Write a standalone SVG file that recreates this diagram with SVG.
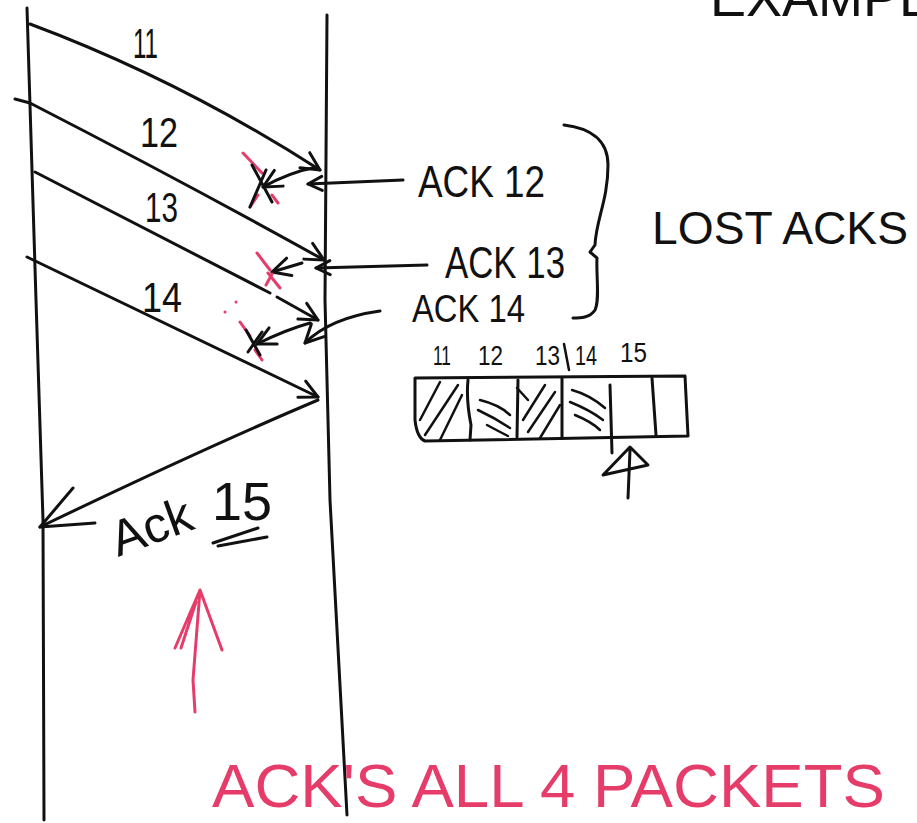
<svg xmlns="http://www.w3.org/2000/svg" width="917" height="823" viewBox="0 0 917 823">
<defs>
<style>
.ln{fill:none;stroke:#111;stroke-width:3;stroke-linecap:round;stroke-linejoin:round}
.th{fill:none;stroke:#111;stroke-width:2.5;stroke-linecap:round;stroke-linejoin:round}
.pk{fill:none;stroke:#e63c6a;stroke-width:3;stroke-linecap:round;stroke-linejoin:round}
.t{font-family:"Liberation Sans",Arial,sans-serif;fill:#111}
.rt{font-family:"Liberation Sans",Arial,sans-serif;fill:#e63c6a}
</style>
<marker id="ah" viewBox="0 0 24 24" refX="21" refY="12" markerWidth="24" markerHeight="24" markerUnits="userSpaceOnUse" orient="auto">
<path d="M3,3 L21,12 L3,21" fill="none" stroke="#111" stroke-width="3" stroke-linecap="round" stroke-linejoin="round"/>
</marker>
<marker id="ahs" viewBox="0 0 18 18" refX="16" refY="9" markerWidth="18" markerHeight="18" markerUnits="userSpaceOnUse" orient="auto">
<path d="M2,2 L16,9 L2,16" fill="none" stroke="#111" stroke-width="3" stroke-linecap="round" stroke-linejoin="round"/>
</marker>
</defs>
<rect width="917" height="823" fill="#fff"/>

<g id="sender-timeline"><path class="ln" d="M27,8 L36,300 L43,520 L44,820"/></g>
<g id="receiver-timeline"><path class="ln" d="M327,15 L325,300 L330,500 L347,815"/></g>

<g id="connectors">
<path class="ln" d="M30,24 Q180,80 320,170" marker-end="url(#ah)"/>
<path class="ln" d="M15,99 L30,103 Q180,180 324,260" marker-end="url(#ah)"/>
<path class="ln" d="M35,172 L270,293"/>
<path class="ln" d="M277,297 L318,320" marker-end="url(#ah)"/>
<path class="ln" d="M27,257 L318,397" marker-end="url(#ah)"/>
<path class="ln" d="M318,400 Q200,450 40,527"/>
<path class="ln" d="M73,488 L40,527 L95,523"/>
<path class="ln" d="M403,180 L308,184" marker-end="url(#ahs)"/>
<path class="ln" d="M317,167 Q290,172 263,187" marker-end="url(#ah)"/>
<path class="ln" d="M427,265 L316,268" marker-end="url(#ahs)"/>
<path class="ln" d="M302,263 L272,272" marker-end="url(#ah)"/>
<path class="ln" d="M380,311 Q330,318 305,343" marker-end="url(#ah)"/>
<path class="ln" d="M310,323 Q285,330 257,344" marker-end="url(#ah)"/>
</g>

<g id="lost-marks">
<path class="pk" d="M243,153 L262,173 M258,195 L250,207 M272,195 L278,203"/>
<path class="ln" d="M252,165 L272,202 M266,170 L250,207"/>
<path class="pk" d="M257,253 L270,270 M268,273 L280,288 M266,285 L272,274"/>
<path class="pk" d="M240,322 L250,336 M255,350 L262,360"/>
<path class="ln" d="M246,330 L260,355 M262,332 L248,352"/>
<circle cx="225" cy="312" r="1.5" fill="#e63c6a"/>
<circle cx="236" cy="302" r="1.5" fill="#e63c6a"/>
</g>

<g id="packet-labels">
<text class="t" x="133" y="58" font-size="42" textLength="25" lengthAdjust="spacingAndGlyphs">11</text>
<text class="t" x="140" y="147" font-size="42" textLength="38" lengthAdjust="spacingAndGlyphs">12</text>
<text class="t" x="145" y="222" font-size="42" textLength="33" lengthAdjust="spacingAndGlyphs">13</text>
<text class="t" x="142" y="312" font-size="42" textLength="40" lengthAdjust="spacingAndGlyphs">14</text>
</g>

<g id="ack-labels">
<text class="t" x="418" y="197" font-size="44" textLength="127" lengthAdjust="spacingAndGlyphs">ACK 12</text>
<text class="t" x="445" y="278" font-size="44" textLength="120" lengthAdjust="spacingAndGlyphs">ACK 13</text>
<text class="t" x="412" y="322" font-size="38" textLength="113" lengthAdjust="spacingAndGlyphs">ACK 14</text>
</g>

<g id="lost-acks">
<path class="ln" d="M564,125 C590,128 608,140 608,165 C608,200 596,220 595,245 L590,252 L597,258 C596,275 600,300 595,310 C590,318 580,318 573,318"/>
<text class="t" x="652" y="244" font-size="47" textLength="256" lengthAdjust="spacingAndGlyphs">LOST ACKS</text>
</g>

<g id="title"><text class="t" x="710" y="16" font-size="54">EXAMPLE</text></g>

<g id="buffer">
<path class="ln" d="M415,378 L685,376 L688,436 L425,441 Q417,438 415,420 Z"/>
<path class="ln" d="M468,380 Q466,400 471,425 L470,440 M518,380 L517,437 M562,378 L562,438 M610,385 L612,453 M652,378 L656,435"/>
<path class="th" d="M420,420 L440,382 M425,435 L458,385 M440,440 L462,395"/>
<path class="th" d="M480,400 Q500,405 510,415 M478,410 Q495,418 510,428 M487,425 Q500,432 508,436"/>
<path class="th" d="M517,388 L528,400 M523,420 L545,385 M528,432 L555,392 M540,438 L560,405"/>
<path class="th" d="M572,390 Q590,395 605,408 M570,402 Q590,410 603,420 M575,415 Q592,422 600,430"/>
<text class="t" x="433" y="365" font-size="28" textLength="18" lengthAdjust="spacingAndGlyphs">11</text>
<text class="t" x="478" y="365" font-size="28" textLength="25" lengthAdjust="spacingAndGlyphs">12</text>
<text class="t" x="535" y="365" font-size="28" textLength="25" lengthAdjust="spacingAndGlyphs">13</text>
<path class="th" d="M564,344 L569,370"/>
<text class="t" x="575" y="365" font-size="28" textLength="22" lengthAdjust="spacingAndGlyphs">14</text>
<text class="t" x="620" y="362" font-size="28" textLength="27" lengthAdjust="spacingAndGlyphs">15</text>
<path class="ln" d="M628,498 L630,450 M603,475 L630,447 L648,465 Z"/>
</g>

<g id="ack15-label">
<text class="t" x="118" y="557" font-size="50" transform="rotate(-20 118 557)">Ack</text>
<text class="t" x="212" y="520" font-size="54">15</text>
<path class="ln" d="M213,543 L258,528 M218,546 L267,537"/>
</g>

<g id="note">
<path class="pk" d="M195,712 L193,680 L200,590 M175,648 L200,590 L222,650 M181,648 L196,602"/>
<text class="rt" x="212" y="807" font-size="61" textLength="673" lengthAdjust="spacingAndGlyphs">ACK'S ALL 4 PACKETS</text>
</g>
</svg>
